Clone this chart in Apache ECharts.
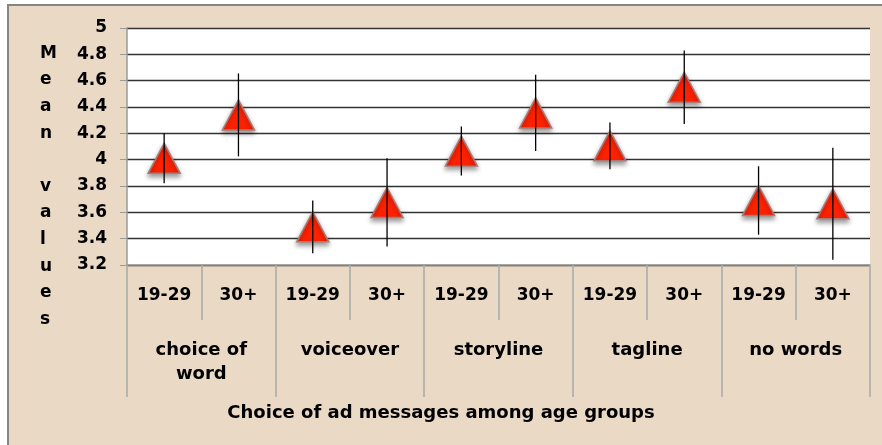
<!DOCTYPE html>
<html>
<head>
<meta charset="utf-8">
<script src="https://cdn.jsdelivr.net/npm/echarts@6/dist/echarts.min.js"></script>
<style>
html,body{margin:0;padding:0;background:#fff;}
#main{width:882px;height:445px;}
</style>
</head>
<body>
<div id="main"></div>
<script>
// age group under each point
var ages = ['19-29','30+','19-29','30+','19-29','30+','19-29','30+','19-29','30+'];
// ad message groups (two ages each)
var groups = ['choice of\nword','voiceover','storyline','tagline','no words'];
// mean values
var means = [4.01, 4.34, 3.49, 3.675, 4.065, 4.355, 4.105, 4.55, 3.69, 3.665];
// +/- error (half length of the bar)
var errs = [0.19, 0.315, 0.2, 0.335, 0.186, 0.29, 0.178, 0.28, 0.26, 0.425];

var fontName = 'DejaVu Sans';

var pts = [];
var bars = [];
for(var i=0;i<means.length;i++){
	pts.push([i, means[i]]);
	bars.push([i, means[i]-errs[i], means[i]+errs[i]]);
}

function errBar(params, api){
	var p1 = api.coord([api.value(0), api.value(1)]);
	var p2 = api.coord([api.value(0), api.value(2)]);
	return {
		type: 'line',
		shape: {x1: p1[0], y1: p1[1], x2: p2[0], y2: p2[1]},
		style: {stroke: '#000', lineWidth: 1.3}
	};
}

var myChart = echarts.init(document.getElementById('main'));
var option = {
	backgroundColor: '#fff',
	animation: false,
	graphic: [
		{
			type: 'rect', z: -10,
			shape: {x: 8, y: 5, width: 890, height: 460},
			style: {fill: '#EAD9C5', stroke: '#858585', lineWidth: 2}
		},
		{
			type: 'text', left: 40, top: 40,
			style: {
				text: 'M\ne\na\nn\n \nv\na\nl\nu\ne\ns',
				font: 'bold 17px ' + fontName,
				lineHeight: 26.6,
				fill: '#000',
				align: 'center'
			}
		},
		{
			type: 'text', left: 'center', top: 404,
			style: {
				text: 'Choice of ad messages among age groups',
				font: 'bold 18px ' + fontName,
				fill: '#000'
			}
		}
	],
	grid: {
		left: 127, right: 12, top: 28, bottom: 180,
		show: true, backgroundColor: '#fff', borderWidth: 0
	},
	xAxis: [
		{
			type: 'category',
			data: ages,
			position: 'bottom',
			axisLine: {lineStyle: {color: '#9a9a9a', width: 1.5}},
			axisTick: {show: true, length: 55, interval: 0, lineStyle: {color: '#a8a8a8', width: 1.5}},
			axisLabel: {
				interval: 0, margin: 19, color: '#000',
				fontFamily: fontName, fontWeight: 'bold', fontSize: 17, lineHeight: 23
			},
			splitLine: {show: false}
		},
		{
			type: 'category',
			data: groups,
			position: 'bottom',
			offset: 55,
			axisLine: {show: false},
			axisTick: {show: true, length: 77, interval: 0, lineStyle: {color: '#a8a8a8', width: 1.5}},
			axisLabel: {
				interval: 0, margin: 18, color: '#000',
				fontFamily: fontName, fontWeight: 'bold', fontSize: 18, lineHeight: 24
			},
			splitLine: {show: false}
		}
	],
	yAxis: {
		type: 'value',
		min: 3.2, max: 5, interval: 0.2,
		axisLine: {show: true, lineStyle: {color: '#9a9a9a', width: 1.5}},
		axisTick: {show: true, length: 7, lineStyle: {color: '#9a9a9a'}},
		axisLabel: {
			margin: 20, color: '#000',
			fontFamily: fontName, fontWeight: 'bold', fontSize: 17
		},
		splitLine: {lineStyle: {color: '#333', width: 1.4}}
	},
	series: [
		{
			type: 'scatter',
			xAxisIndex: 0,
			data: pts,
			symbol: 'triangle',
			symbolSize: [32, 30],
			itemStyle: {
				color: '#FF2200',
				opacity: 1,
				borderColor: '#A87B78',
				borderWidth: 1.5,
				shadowBlur: 5,
				shadowColor: 'rgba(0,0,0,0.4)',
				shadowOffsetY: 3
			},
			z: 2
		},
		{
			type: 'custom',
			xAxisIndex: 0,
			data: bars,
			renderItem: errBar,
			z: 3
		}
	]
};
myChart.setOption(option);
</script>
</body>
</html>
